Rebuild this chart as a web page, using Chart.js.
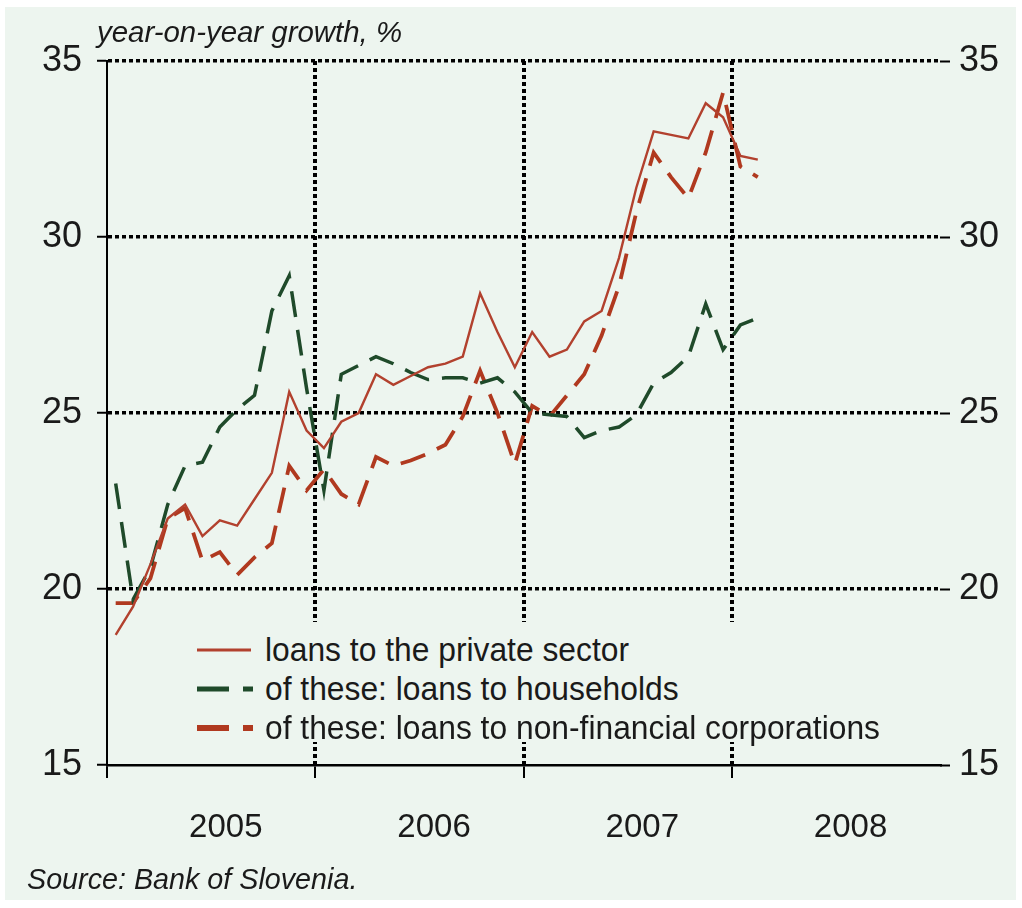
<!DOCTYPE html>
<html><head><meta charset="utf-8">
<script src="https://cdn.jsdelivr.net/npm/chart.js@4"></script>
<style>
html,body{margin:0;padding:0;background:#fff;}
#wrap{position:relative;width:1022px;height:908px;overflow:hidden;}
#panel{position:absolute;left:5px;top:7px;width:1011px;height:893px;background:#edf5ef;}
#c{position:absolute;left:0;top:0;}
.t{position:absolute;font-family:'Liberation Sans','Arial',sans-serif;color:#1a1a1a;white-space:nowrap;transform-origin:0 50%;}
#title{left:97px;top:15px;font-size:30px;font-style:italic;transform:scaleX(0.98);}
#source{left:27px;top:862px;font-size:30px;font-style:italic;transform:scaleX(0.957);}
#legend{left:190px;top:622px;width:700px;height:120px;padding:8px 0 0 5px;box-sizing:border-box;font-size:34px;background:#edf5ef;}
.row{display:flex;align-items:center;height:39px;}
.row svg{margin-right:12px;flex:none;}
.row span{display:inline-block;transform:scaleX(0.935);transform-origin:0 50%;}
</style></head>
<body>
<div id="wrap">
<div id="panel"></div>
<canvas id="c" width="1022" height="908"></canvas>
<div class="t" id="title">year-on-year growth, %</div>
<div class="t" id="legend">
 <div class="row"><svg width="58" height="10"><line x1="2" y1="5" x2="56" y2="5" stroke="#b2412e" stroke-width="3"/></svg><span>loans to the private sector</span></div>
 <div class="row"><svg width="58" height="10"><line x1="2" y1="5" x2="58" y2="5" stroke="#1f4a2a" stroke-width="5" stroke-dasharray="32 14"/></svg><span>of these: loans to households</span></div>
 <div class="row"><svg width="58" height="10"><line x1="2" y1="5" x2="58" y2="5" stroke="#b0391f" stroke-width="6" stroke-dasharray="32 14"/></svg><span>of these: loans to non-financial corporations</span></div>
</div>
<div class="t" id="source">Source: Bank of Slovenia.</div>
</div>
<script>
// ---- data ----
const years = ['2005', '2006', '2007', '2008'];
const yTicks = [15, 20, 25, 30, 35];
const seriesNames = ['loans to the private sector', 'of these: loans to households', 'of these: loans to non-financial corporations'];
// monthly year-on-year growth, %, Jan 2005 .. Feb 2008
const privateSector = [18.7, 19.5, 20.7, 22.0, 22.4, 21.5, 21.95, 21.8, 22.55, 23.3, 25.6, 24.5,
                       24.0, 24.75, 25.0, 26.1, 25.8, 26.05, 26.3, 26.4, 26.6, 28.4, 27.3, 26.3,
                       27.3, 26.6, 26.8, 27.6, 27.9, 29.4, 31.4, 33.0, 32.9, 32.8, 33.8, 33.4,
                       32.3, 32.2];
const households = [23.0, 19.7, 20.6, 22.4, 23.5, 23.6, 24.6, 25.1, 25.5, 27.9, 28.9, 25.7,
                    22.8, 26.1, 26.35, 26.6, 26.4, 26.15, 25.95, 26.0, 26.0, 25.85, 26.0, 25.6,
                    25.0, 24.95, 24.9, 24.3, 24.5, 24.6, 24.95, 25.85, 26.15, 26.6, 28.1, 26.8,
                    27.5, 27.7];
const corporations = [19.6, 19.6, 20.3, 22.0, 22.3, 20.8, 21.05, 20.4, 20.9, 21.3, 23.5, 22.8,
                      23.4, 22.7, 22.4, 23.75, 23.5, 23.65, 23.85, 24.1, 24.9, 26.2, 25.0, 23.55,
                      25.2, 24.9, 25.5, 26.1, 27.2, 28.6, 30.7, 32.4, 31.7, 31.1, 32.4, 34.1,
                      32.0, 31.7];

const months = [];
years.forEach(y => { for (let m = 1; m <= 12; m++) months.push(y + '-' + String(m).padStart(2, '0')); });

const FONT = "'Liberation Sans','Arial',sans-serif";
const TXT = '#1a1a1a';
const BLACK = '#000';
const NONE = 'rgba(0,0,0,0)';

new Chart(document.getElementById('c'), {
  type: 'line',
  data: {
    labels: months,
    datasets: [
      {label: seriesNames[0], data: privateSector, borderColor: '#b2412e', borderWidth: 2.4, pointRadius: 0, tension: 0, yAxisID: 'y'},
      {label: seriesNames[1], data: households, borderColor: '#1f4a2a', borderWidth: 3.5, borderDash: [26, 13], pointRadius: 0, tension: 0, yAxisID: 'y'},
      {label: seriesNames[2], data: corporations, borderColor: '#b0391f', borderWidth: 3.8, borderDash: [26, 13], pointRadius: 0, tension: 0, yAxisID: 'y'}
    ]
  },
  options: {
    responsive: false,
    animation: false,
    devicePixelRatio: 1,
    layout: {padding: {left: 0, right: 0, top: 61, bottom: 0}},
    plugins: {legend: {display: false}, title: {display: false}, tooltip: {enabled: false}},
    scales: {
      x: {
        type: 'category',
        offset: true,
        z: 1,
        grid: {
          offset: true,
          lineWidth: 4,
          color: ctx => (ctx.index % 12 === 0 && ctx.index !== 0) ? BLACK : NONE,
          tickColor: ctx => (ctx.index % 12 === 0) ? BLACK : NONE,
          tickWidth: 2,
          tickLength: 13,
          tickBorderDash: []
        },
        border: {display: true, color: BLACK, width: 2.5, dash: [4, 3]},
        ticks: {
          autoSkip: false, maxRotation: 0, minRotation: 0, padding: 30, labelOffset: 6,
          color: TXT, font: {family: FONT, size: 33},
          callback: (v, i) => (i % 12 === 6) ? years[Math.floor(i / 12)] : ''
        },
        afterFit: s => { s.height = 143; }
      },
      y: {
        position: 'left', min: 15, max: 35,
        z: 1,
        afterBuildTicks: s => { s.ticks = yTicks.map(v => ({value: v})); },
        grid: {
          lineWidth: 3.5,
          color: ctx => (ctx.tick && ctx.tick.value === 15) ? NONE : BLACK,
          tickColor: BLACK, tickWidth: 2, tickLength: 10, tickBorderDash: []
        },
        border: {display: true, color: BLACK, width: 2, dash: [4, 3]},
        ticks: {color: TXT, font: {family: FONT, size: 36}, padding: 15},
        afterFit: s => { s.width = 107; }
      },
      y2: {
        position: 'right', min: 15, max: 35,
        afterBuildTicks: s => { s.ticks = yTicks.map(v => ({value: v})); },
        grid: {drawOnChartArea: false, tickColor: BLACK, tickWidth: 2, tickLength: 10, tickBorderDash: []},
        border: {display: false},
        ticks: {color: TXT, font: {family: FONT, size: 36}, padding: 9},
        afterFit: s => { s.width = 82; }
      }
    }
  }
});
</script>
</body></html>
